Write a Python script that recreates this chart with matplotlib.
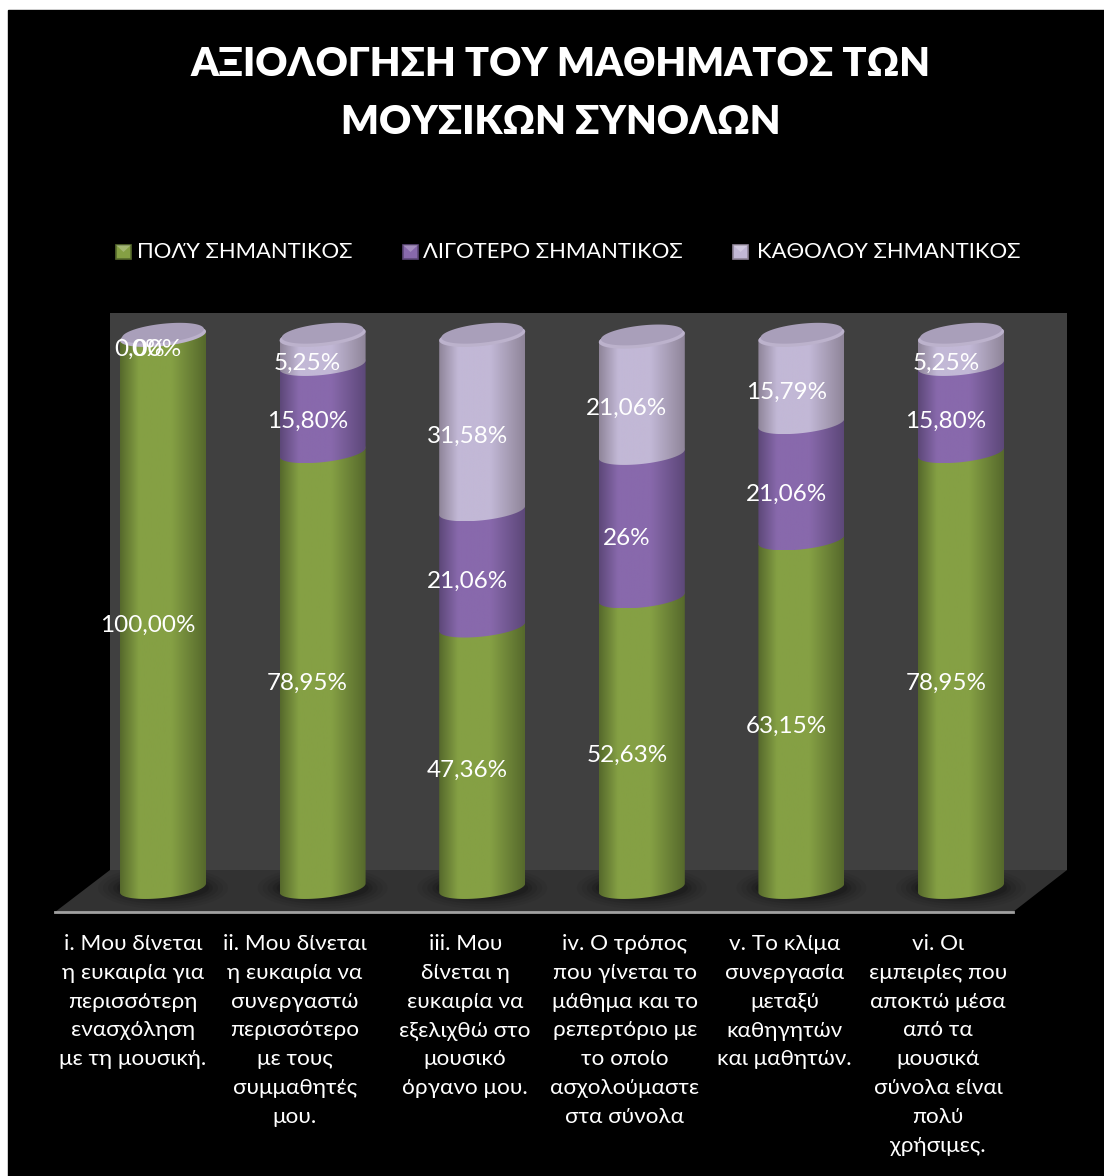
import numpy as np
import matplotlib
matplotlib.use('Agg')
import matplotlib.pyplot as plt
from matplotlib.colors import LinearSegmentedColormap
from matplotlib.patches import Polygon, Rectangle

plt.rcParams['font.family'] = ['Lato', 'Open Sans', 'DejaVu Sans']

title_lines = ['ΑΞΙΟΛΟΓΗΣΗ ΤΟΥ ΜΑΘΗΜΑΤΟΣ ΤΩΝ', 'ΜΟΥΣΙΚΩΝ ΣΥΝΟΛΩΝ']
series_names = ['ΠΟΛΎ ΣΗΜΑΝΤΙΚΟΣ', 'ΛΙΓΟΤΕΡΟ ΣΗΜΑΝΤΙΚΟΣ', 'ΚΑΘΟΛΟΥ ΣΗΜΑΝΤΙΚΟΣ']
categories = [
    'i. Μου δίνεται\nη ευκαιρία για\nπερισσότερη\nενασχόληση\nμε τη μουσική.',
    'ii. Μου δίνεται\nη ευκαιρία να\nσυνεργαστώ\nπερισσότερο\nμε τους\nσυμμαθητές\nμου.',
    'iii. Μου\nδίνεται η\nευκαιρία να\nεξελιχθώ στο\nμουσικό\nόργανο μου.',
    'iv. Ο τρόπος\nπου γίνεται το\nμάθημα και το\nρεπερτόριο με\nτο οποίο\nασχολούμαστε\nστα σύνολα',
    'v. Το κλίμα\nσυνεργασία\nμεταξύ\nκαθηγητών\nκαι μαθητών.',
    'vi. Οι\nεμπειρίες που\nαποκτώ μέσα\nαπό τα\nμουσικά\nσύνολα είναι\nπολύ\nχρήσιμες.',
]
very = [100.0, 78.95, 47.36, 52.63, 63.15, 78.95]
less = [0.0, 15.80, 21.06, 26.0, 21.06, 15.80]
none = [0.0, 5.25, 31.58, 21.06, 15.79, 5.25]
very_labels = ['100,00%', '78,95%', '47,36%', '52,63%', '63,15%', '78,95%']
less_labels = ['0,00%', '15,80%', '21,06%', '26%', '21,06%', '15,80%']
none_labels = ['0%', '5,25%', '31,58%', '21,06%', '15,79%', '5,25%']

W, H = 1104, 1176
X0, XSTEP = 163, 159.6     # pixel of first column, pixels per category
Y0, YSCALE = 888, 5.52     # pixel of 0%, pixels per percent
HALF_W, B, TILT = 43, 10, 4.5
PX = 72 / 100              # points per pixel
label_shift = [-30, -28, -17, -17, -17, -23]   # axis labels sit left of the columns

fig = plt.figure(figsize=(W / 100, H / 100), dpi=100, facecolor='white')

# decoration in pixel coordinates
bg = fig.add_axes([0, 0, 1, 1], zorder=0)
bg.axis('off')
bg.add_patch(Rectangle((8, 10), W - 8, H - 10, color='black'))

side = np.linspace(0.11, 0.19, 64).reshape(1, -1)
im = bg.imshow(side, extent=(55, 110, 912, 313), cmap='gray', vmin=0, vmax=1, aspect='auto')
im.set_clip_path(Polygon([(55, 353), (110, 313), (110, 870), (55, 912)], transform=bg.transData))
bg.add_patch(Polygon([(110, 313), (1067, 313), (1067, 870), (110, 870)], color='#404040', lw=0))
bg.add_patch(Polygon([(110, 870), (1067, 870), (1013, 912), (55, 912)], color='#323232', lw=0))
bg.plot([55, 1013], [912, 912], color='#a0a0a0', lw=2)
bg.set_xlim(0, W)
bg.set_ylim(H, 0)

# chart in data coordinates: category index and percent
ax = fig.add_axes([0, 0, 1, 1], zorder=1)
ax.axis('off')
ax.set_xlim(-X0 / XSTEP, (W - X0) / XSTEP)
ax.set_ylim((Y0 - H) / YSCALE, Y0 / YSCALE)


def ring(i, level, t, shrink=1.0):
    px = HALF_W * shrink * np.cos(t)
    py = B * shrink * np.sin(t) + TILT * shrink * np.cos(t)
    return i + px / XSTEP, level + py / YSCALE


def segment(i, low, high, edge, mid):
    xb, yb = ring(i, low, np.linspace(np.pi, 2 * np.pi, 60))
    xt, yt = ring(i, high, np.linspace(0, np.pi, 60))
    pts = np.column_stack([np.r_[xb, xt], np.r_[yb, yt]])
    clip = Polygon(pts, transform=ax.transData, facecolor='none', edgecolor='none')
    ax.add_patch(clip)
    cmap = LinearSegmentedColormap.from_list('c', [(0, edge), (0.22, mid), (0.6, mid), (1, edge)])
    grad = np.linspace(0, 1, 128).reshape(1, -1)
    left, right = i - HALF_W / XSTEP, i + HALF_W / XSTEP
    m = ax.imshow(grad, extent=(left, right, pts[:, 1].min(), pts[:, 1].max()),
                  cmap=cmap, aspect='auto', zorder=3)
    m.set_clip_path(clip)


def cap(i, level):
    t = np.linspace(0, 2 * np.pi, 120)
    xs, ys = ring(i, level, t)
    ax.fill(xs, ys, color='#bcb2cc', zorder=3.5, lw=0)
    xs, ys = ring(i, level + 0.5, t, 0.95)
    ax.fill(xs, ys, color='#a99fba', zorder=3.6, lw=0)


colors = [('#56692c', '#85a044'), ('#5d4879', '#8869ac'), ('#8f8599', '#c2b8d6')]

for i in range(len(categories)):
    # shadow at the foot
    for grow, alpha in [(22, 0.05), (17, 0.06), (12, 0.08), (7, 0.1), (3, 0.12)]:
        t = np.linspace(0, 2 * np.pi, 80)
        xs = i + (HALF_W + grow) * np.cos(t) / XSTEP
        ys = (B + grow * 0.5) * np.sin(t) / YSCALE
        ax.fill(xs, ys, color='black', alpha=alpha, lw=0, zorder=2)
    bottom = 0
    for vals, (edge, mid) in zip([very, less, none], colors):
        if vals[i] > 0:
            segment(i, bottom, bottom + vals[i], edge, mid)
        bottom += vals[i]
    cap(i, bottom)

ax.set_xlim(-X0 / XSTEP, (W - X0) / XSTEP)
ax.set_ylim((Y0 - H) / YSCALE, Y0 / YSCALE)

# data labels sit left of and below the middle of each segment
for i in range(len(categories)):
    bottom = 0
    for vals, labs in zip([very, less, none], [very_labels, less_labels, none_labels]):
        ax.annotate(labs[i], (i, bottom + vals[i] / 2), xytext=(-15 * PX, -13 * PX), textcoords='offset points',
                    ha='center', va='center', color='white', fontsize=17.5, zorder=5)
        bottom += vals[i]
    ax.annotate(categories[i], (i, 0), xytext=(label_shift[i] * PX, -46 * PX), textcoords='offset points',
                ha='center', va='top', color='white', fontsize=16.2, linespacing=1.55, zorder=5)

bg.text(561, 64, title_lines[0], color='white', fontsize=28.5, fontweight='heavy', ha='center', va='center')
bg.text(561, 122, title_lines[1], color='white', fontsize=28.5, fontweight='heavy', ha='center', va='center')

legend_swatch = [116, 403, 733]
legend_text = [137, 423, 757]
for sx, (edge, mid), tx, name in zip(legend_swatch, colors, legend_text, series_names):
    bg.add_patch(Rectangle((sx, 245), 15, 14, facecolor=mid, edgecolor=edge, lw=1.2))
    bg.add_patch(Polygon([(sx, 245), (sx + 15, 245), (sx + 7.5, 252)], color='white', alpha=0.25, lw=0))
    bg.text(tx, 252, name, color='white', fontsize=15.8, ha='left', va='center')

fig.savefig('out.png', dpi=100, facecolor='white')
